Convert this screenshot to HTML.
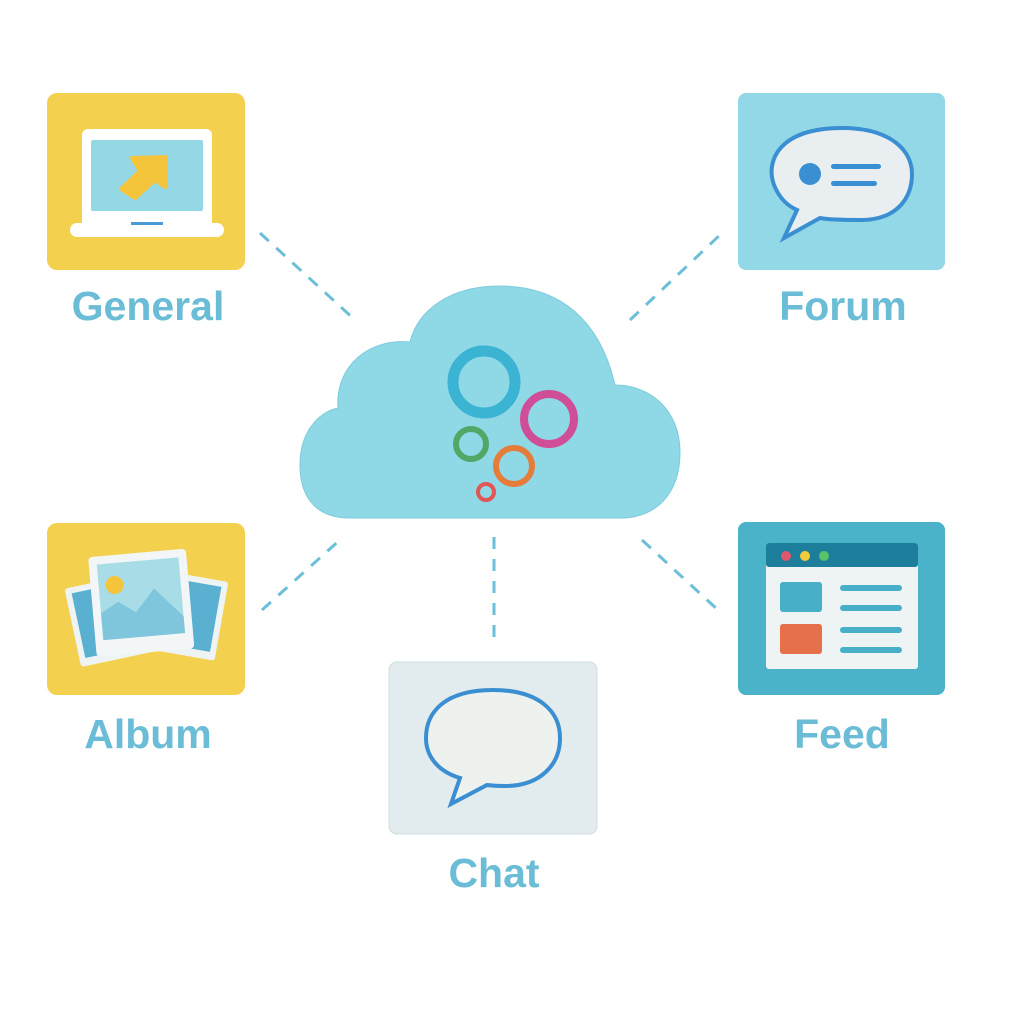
<!DOCTYPE html>
<html><head><meta charset="utf-8"><style>
html,body{margin:0;padding:0;background:#fff;width:1024px;height:1024px;overflow:hidden}
svg text{font-family:"Liberation Sans",sans-serif;font-size:41px;fill:#6bbcd6;text-anchor:middle;font-weight:bold}
</style></head><body>
<svg width="1024" height="1024" viewBox="0 0 1024 1024" xmlns="http://www.w3.org/2000/svg">
<g stroke="#6bbfd8" stroke-width="3" stroke-dasharray="12,10" fill="none">
<line x1="260" y1="233" x2="355" y2="320"/>
<line x1="630" y1="320" x2="722" y2="233"/>
<line x1="262" y1="610" x2="342" y2="538"/>
<line x1="494" y1="537" x2="494" y2="642"/>
<line x1="642" y1="540" x2="718" y2="610"/>
</g>
<!-- General -->
<rect x="47" y="93" width="198" height="177" rx="10" fill="#f4d04f"/>
<rect x="82" y="129" width="130" height="100" rx="6" fill="#fff"/>
<rect x="91" y="140" width="112" height="71" rx="2" fill="#94d8e6"/>
<rect x="70" y="223" width="154" height="14" rx="7" fill="#fff"/>
<rect x="131" y="222" width="32" height="3" fill="#4a9ad8"/>
<path d="M132 158 L166 157 L165 187 L155 180 L135 198 L121 189 L140 171 Z" fill="#f4c43a" stroke="#f4c43a" stroke-width="4" stroke-linejoin="round"/>
<text x="148" y="320">General</text>
<!-- Forum -->
<rect x="738" y="93" width="207" height="177" rx="8" fill="#92d8e6"/>
<path d="M842 128 C780 128 765 160 774 185 C780 200 790 207 797 210 L784 238 L820 218 C830 220 850 220 860 220 C900 220 912 195 912 174 C912 150 890 128 842 128 Z" fill="#e9eff0" stroke="#3a8ed2" stroke-width="4"/>
<circle cx="810" cy="174" r="11" fill="#3a8ed2"/>
<rect x="831" y="164" width="50" height="5" rx="2.5" fill="#3a8ed2"/>
<rect x="831" y="181" width="46" height="5" rx="2.5" fill="#3a8ed2"/>
<text x="843" y="320">Forum</text>
<!-- Cloud -->
<path d="M350 518 C310 518 300 490 300 465 C300 430 320 412 338 408 C335 365 370 338 410 342 C418 310 450 286 500 286 C560 286 600 320 615 385 C650 385 680 410 680 452 C680 495 655 518 620 518 Z" fill="#8fd8e6" stroke="#7ccbdc" stroke-width="1"/>
<circle cx="484" cy="382" r="31" fill="none" stroke="#3bb3d3" stroke-width="11"/>
<circle cx="549" cy="419" r="25" fill="none" stroke="#d04e97" stroke-width="8"/>
<circle cx="471" cy="444" r="15" fill="none" stroke="#4fa866" stroke-width="6"/>
<circle cx="514" cy="466" r="18" fill="none" stroke="#e57c3a" stroke-width="6"/>
<circle cx="486" cy="492" r="8" fill="none" stroke="#e25555" stroke-width="4"/>
<!-- Album -->
<rect x="47" y="523" width="198" height="172" rx="10" fill="#f4d04f"/>
<g transform="rotate(-12 110 620)"><rect x="72" y="580" width="80" height="80" rx="3" fill="#eef3f4"/><rect x="78" y="586" width="68" height="66" fill="#5ab0d0"/></g>
<g transform="rotate(10 185 615)"><rect x="150" y="575" width="72" height="80" rx="3" fill="#eef3f4"/><rect x="156" y="581" width="60" height="66" fill="#5ab0d0"/></g>
<g transform="rotate(-5 138 600)"><rect x="92" y="553" width="98" height="100" rx="4" fill="#f2f6f7"/><rect x="100" y="561" width="82" height="76" fill="#a8dde8"/>
<circle cx="116" cy="583" r="9" fill="#f4c43a"/><path d="M100 637 L100 610 L118 600 L135 612 L155 590 L182 620 L182 637 Z" fill="#7fc6dc"/></g>
<text x="148" y="748">Album</text>
<!-- Feed -->
<rect x="738" y="522" width="207" height="173" rx="8" fill="#4bb3c9"/>
<rect x="766" y="543" width="152" height="126" rx="3" fill="#eef3f4"/>
<rect x="766" y="543" width="152" height="24" rx="3" fill="#1d7e9c"/>
<circle cx="786" cy="556" r="5" fill="#e2566b"/><circle cx="805" cy="556" r="5" fill="#f2cc3a"/><circle cx="824" cy="556" r="5" fill="#59c16a"/>
<rect x="780" y="582" width="42" height="30" rx="3" fill="#47b0c8"/>
<rect x="780" y="624" width="42" height="30" rx="3" fill="#e5704a"/>
<rect x="840" y="585" width="62" height="6" rx="3" fill="#47b0c8"/>
<rect x="840" y="605" width="62" height="6" rx="3" fill="#47b0c8"/>
<rect x="840" y="627" width="62" height="6" rx="3" fill="#47b0c8"/>
<rect x="840" y="647" width="62" height="6" rx="3" fill="#47b0c8"/>
<text x="842" y="748">Feed</text>
<!-- Chat -->
<rect x="389" y="662" width="208" height="172" rx="8" fill="#e2ebed" stroke="#cfdcdf"/>
<path d="M493 690 C445 690 426 712 426 738 C426 758 440 772 460 778 L451 804 L487 785 C495 786 500 786 505 786 C540 786 560 765 560 738 C560 712 540 690 493 690 Z" fill="#eef2ef" stroke="#3a8ed2" stroke-width="4"/>
<text x="494" y="887">Chat</text>
</svg>
</body></html>
